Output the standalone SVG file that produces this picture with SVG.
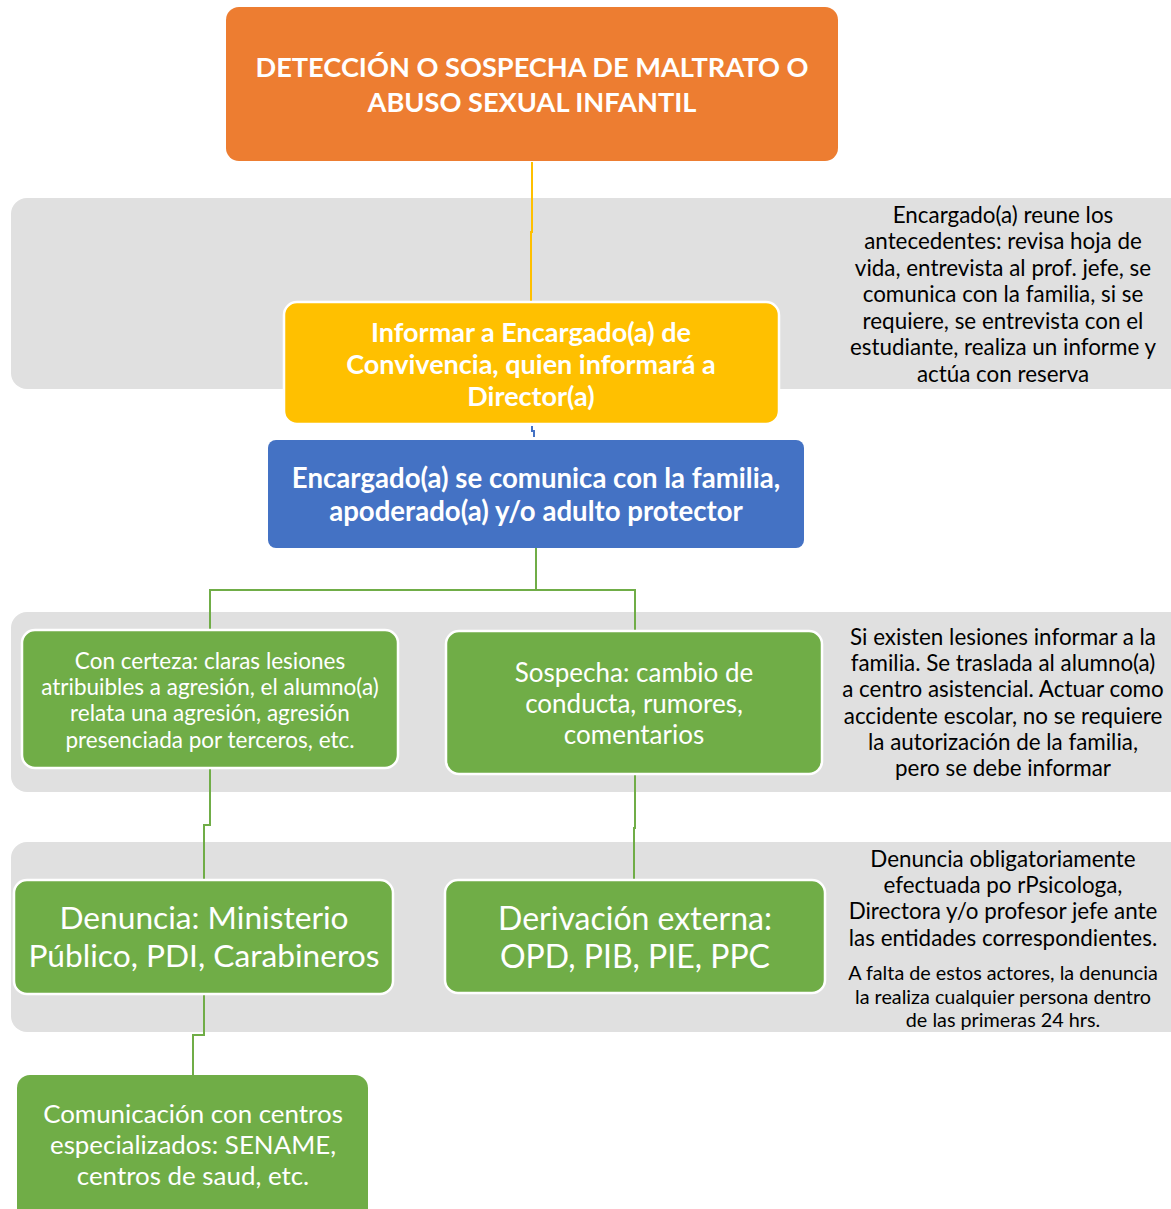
<svg xmlns="http://www.w3.org/2000/svg" width="1171" height="1209" viewBox="0 0 1171 1209">
<style>
.band{fill:#e0e0e0}
.box{stroke:#fff;stroke-width:2.5}
.orange{fill:#ED7D31}
.yellow{fill:#FFC000}
.blue{fill:#4472C4}
.green{fill:#70AD47}
text{font-family:Lato,"Open Sans",sans-serif;text-anchor:middle;dominant-baseline:central}
.wb{fill:#fff;font-weight:bold}
.w{fill:#fff}
.note{fill:#000;font-size:22.4px}
.small{fill:#000;font-size:19.8px}
.conn{fill:none;stroke-width:2}
</style>
<rect class="band" x="11" y="198" width="1180" height="191" rx="16"/>
<rect class="band" x="11" y="612" width="1180" height="180" rx="16"/>
<rect class="band" x="11" y="842" width="1180" height="190" rx="16"/>
<g id="connectors">
<polyline class="conn" stroke="#FFC000" points="532,162 532,232 531,232 531,302"/>
<polyline class="conn" stroke="#4472C4" points="532,426 532,431 534,431 534,437"/>
<polyline class="conn" stroke="#70AD47" points="536,548 536,590 210,590 210,630"/>
<polyline class="conn" stroke="#70AD47" points="536,590 635,590 635,631"/>
<polyline class="conn" stroke="#70AD47" points="210,768 210,825 204,825 204,880"/>
<polyline class="conn" stroke="#70AD47" points="635,774 635,828 634,828 634,880"/>
<polyline class="conn" stroke="#70AD47" points="204,994 204,1035 193,1035 193,1075"/>
</g>
<g id="n-deteccion">
<rect class="orange" x="226" y="7" width="612" height="154" rx="13"/>
<text class="wb" x="532" y="66" font-size="27.2">DETECCIÓN O SOSPECHA DE MALTRATO O</text>
<text class="wb" x="532" y="101" font-size="27.2">ABUSO SEXUAL INFANTIL</text>
</g>
<g id="n-informar">
<rect class="box yellow" x="284" y="302" width="495" height="122" rx="13"/>
<text class="wb" x="531" y="331" font-size="27">Informar a Encargado(a) de</text>
<text class="wb" x="531" y="363" font-size="27">Convivencia, quien informará a</text>
<text class="wb" x="531" y="395" font-size="27">Director(a)</text>
</g>
<g id="n-comunica">
<rect class="blue" x="268" y="440" width="536" height="108" rx="8"/>
<text class="wb" x="536" y="477" font-size="27.6">Encargado(a) se comunica con la familia,</text>
<text class="wb" x="536" y="510" font-size="27.6">apoderado(a) y/o adulto protector</text>
</g>
<g id="n-certeza">
<rect class="box green" x="22" y="630" width="376" height="138" rx="13"/>
<text class="w" x="210" y="660" font-size="22.5">Con certeza: claras lesiones</text>
<text class="w" x="210" y="686" font-size="22.5">atribuibles a agresión, el alumno(a)</text>
<text class="w" x="210" y="712" font-size="22.5">relata una agresión, agresión</text>
<text class="w" x="210" y="739" font-size="22.5">presenciada por terceros, etc.</text>
</g>
<g id="n-sospecha">
<rect class="box green" x="446" y="631" width="376" height="143" rx="13"/>
<text class="w" x="634" y="672" font-size="26">Sospecha: cambio de</text>
<text class="w" x="634" y="703" font-size="26">conducta, rumores,</text>
<text class="w" x="634" y="734" font-size="26">comentarios</text>
</g>
<g id="n-denuncia">
<rect class="box green" x="14" y="880" width="379" height="114" rx="13"/>
<text class="w" x="204" y="917" font-size="31.7">Denuncia: Ministerio</text>
<text class="w" x="204" y="955" font-size="31.7">Público, PDI, Carabineros</text>
</g>
<g id="n-derivacion">
<rect class="box green" x="445" y="880" width="380" height="113" rx="13"/>
<text class="w" x="635" y="917" font-size="32">Derivación externa:</text>
<text class="w" x="635" y="955" font-size="32">OPD, PIB, PIE, PPC</text>
</g>
<g id="n-centros">
<rect class="green" x="17" y="1075" width="351" height="150" rx="13"/>
<text class="w" x="193" y="1113" font-size="25.9">Comunicación con centros</text>
<text class="w" x="193" y="1144" font-size="25.9">especializados: SENAME,</text>
<text class="w" x="193" y="1175" font-size="25.9">centros de saud, etc.</text>
</g>
<g id="note-antecedentes">
<text class="note" x="1003" y="214">Encargado(a) reune los</text>
<text class="note" x="1003" y="240">antecedentes: revisa hoja de</text>
<text class="note" x="1003" y="267">vida, entrevista al prof. jefe, se</text>
<text class="note" x="1003" y="293">comunica con la familia, si se</text>
<text class="note" x="1003" y="320">requiere, se entrevista con el</text>
<text class="note" x="1003" y="346">estudiante, realiza un informe y</text>
<text class="note" x="1003" y="373">actúa con reserva</text>
</g>
<g id="note-lesiones">
<text class="note" x="1003" y="636">Si existen lesiones informar a la</text>
<text class="note" x="1003" y="662">familia. Se traslada al alumno(a)</text>
<text class="note" x="1003" y="688">a centro asistencial. Actuar como</text>
<text class="note" x="1003" y="715">accidente escolar, no se requiere</text>
<text class="note" x="1003" y="741">la autorización de la familia,</text>
<text class="note" x="1003" y="767">pero se debe informar</text>
</g>
<g id="note-denuncia">
<text class="note" x="1003" y="858">Denuncia obligatoriamente</text>
<text class="note" x="1003" y="884">efectuada po rPsicologa,</text>
<text class="note" x="1003" y="910">Directora y/o profesor jefe ante</text>
<text class="note" x="1003" y="937">las entidades correspondientes.</text>
<text class="small" x="1003" y="972">A falta de estos actores, la denuncia</text>
<text class="small" x="1003" y="996">la realiza cualquier persona dentro</text>
<text class="small" x="1003" y="1019">de las primeras 24 hrs.</text>
</g>
</svg>
